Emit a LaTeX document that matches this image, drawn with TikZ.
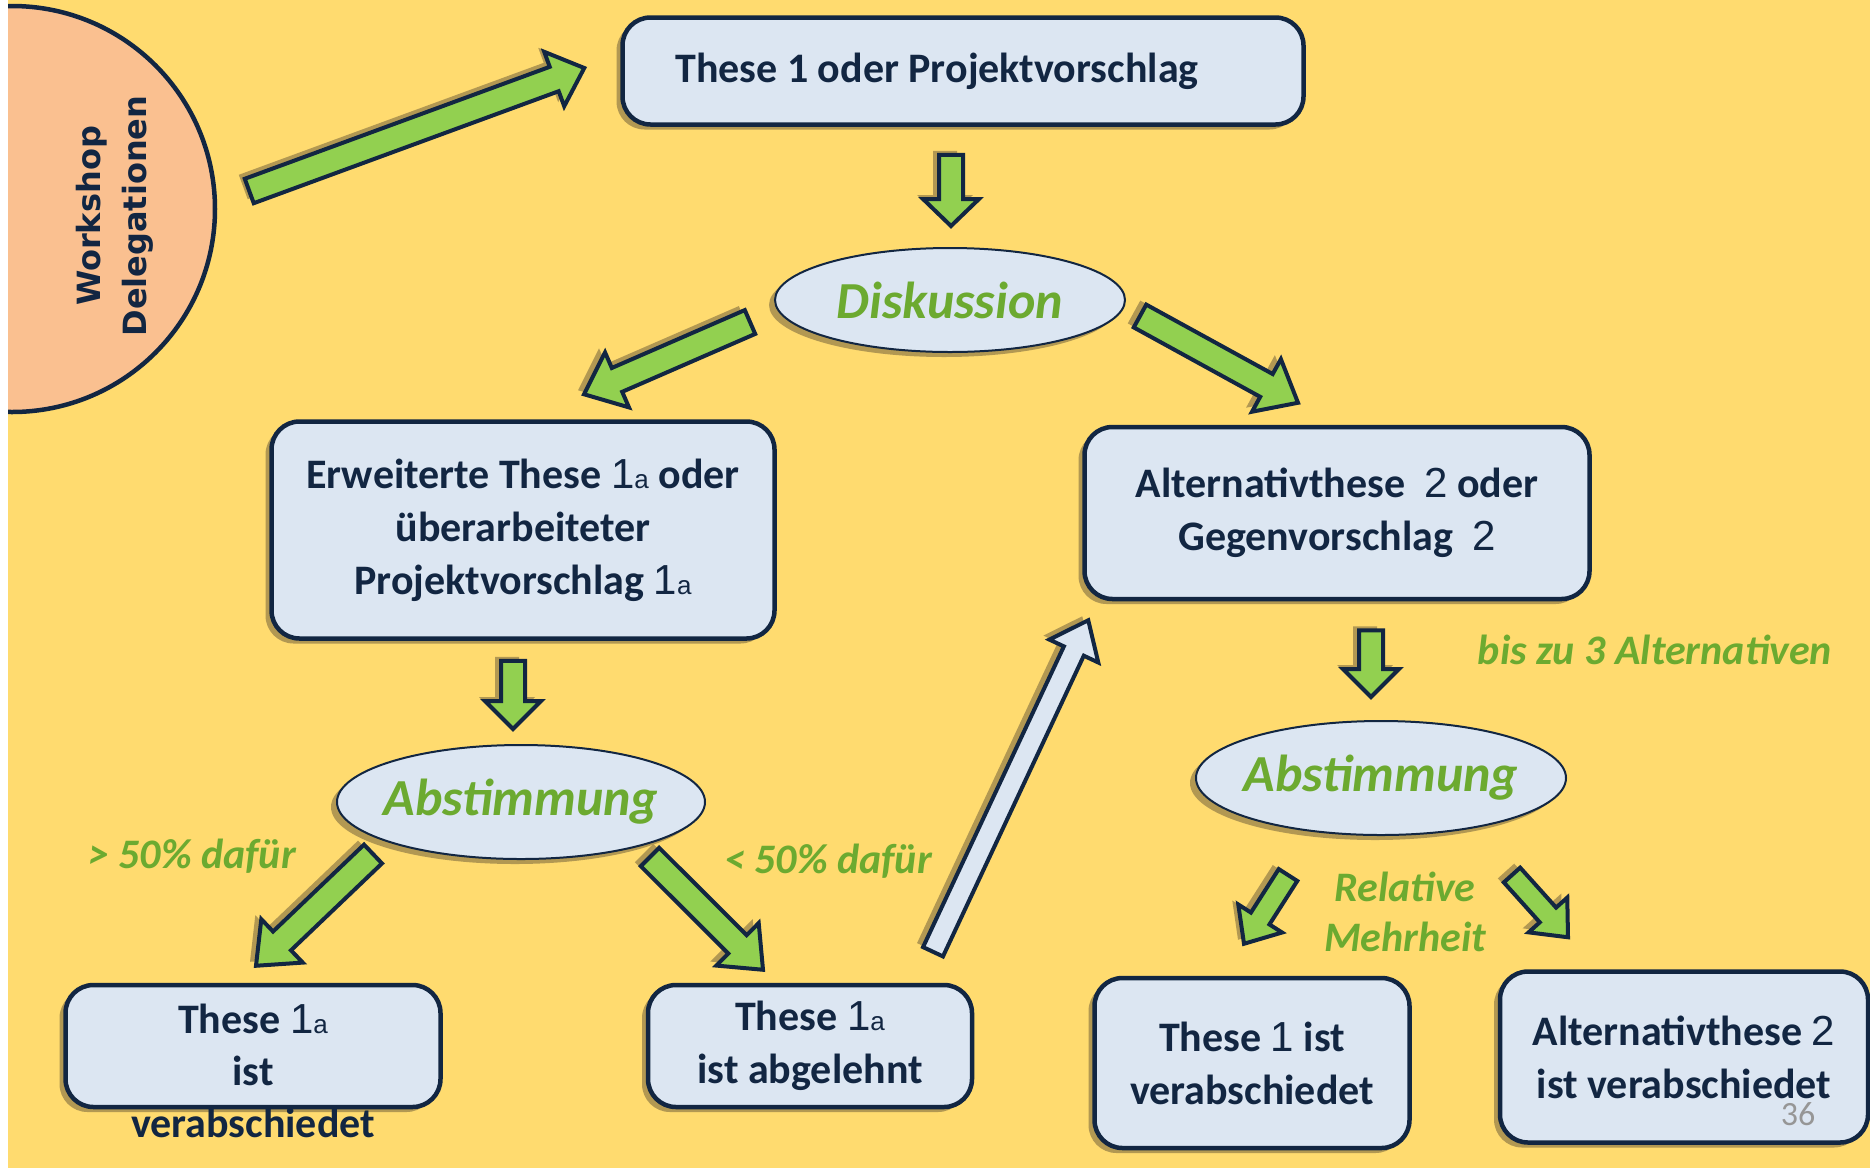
\documentclass[tikz,border=0pt]{standalone}
\usepackage{fontspec}
\setmainfont{Carlito}
\newfontfamily\wsfont{DejaVu Sans}
\newfontfamily\handfont{Liberation Sans}
\usetikzlibrary{calc,shapes.geometric,shadows}

\definecolor{bgyellow}{RGB}{255,219,111}
\definecolor{boxblue}{RGB}{220,230,242}
\definecolor{navy}{RGB}{18,38,66}
\definecolor{arrowgreen}{RGB}{146,208,80}
\definecolor{textgreen}{RGB}{108,170,48}
\definecolor{peach}{RGB}{250,192,144}
\definecolor{shadowc}{RGB}{178,152,82}
\definecolor{pagegray}{RGB}{150,150,150}

\newcommand{\hand}[1]{{\handfont\mdseries #1}}
\newcommand{\einsa}{\hand{1{\fontsize{26}{26}\selectfont a}}}

% block arrow: [style]{shaft}{head}{head length}{from}{to}
\newcommand{\bigarrow}[6][]{%
  \coordinate (ba-s) at #5;
  \coordinate (ba-e) at #6;
  \coordinate (ba-n) at ($(ba-e)!#4!(ba-s)$);
  \draw[blockarr,#1] ($(ba-s)!#2!90:(ba-e)$) -- ($(ba-n)!#2!-90:(ba-s)$)
    -- ($(ba-n)!#3!-90:(ba-s)$) -- (ba-e) -- ($(ba-n)!#3!90:(ba-s)$)
    -- ($(ba-n)!#2!90:(ba-s)$) -- ($(ba-s)!#2!-90:(ba-e)$) -- cycle;
}

\begin{document}
\begin{tikzpicture}[x=1pt,y=1pt,yscale=-1,
    boxshadow/.style={drop shadow={shadow xshift=-6pt,shadow yshift=-5pt,fill=shadowc,opacity=1}},
    thesebox/.style={rectangle,rounded corners=28pt,draw=navy,line width=4.5pt,fill=boxblue,text=navy,
      font=\fontsize{42}{53}\selectfont\bfseries,align=center,inner sep=0pt,boxshadow},
    boxtext/.style={text=navy,font=\fontsize{42}{52}\selectfont\bfseries,align=center,inner sep=0pt},
    talk/.style={ellipse,draw=navy,line width=2pt,fill=boxblue,text=textgreen,
      font=\fontsize{52}{60}\selectfont\bfseries\itshape,inner xsep=-40pt,inner ysep=-10pt,boxshadow},
    greenlab/.style={text=textgreen,font=\fontsize{42}{50}\selectfont\bfseries\itshape,align=center,inner sep=0pt},
    blockarr/.style={draw=navy,line width=4pt,fill=arrowgreen,line join=miter,
      drop shadow={shadow xshift=-6pt,shadow yshift=4pt,fill=shadowc,opacity=1}},
    backarr/.style={fill=boxblue}]
    \useasboundingbox (0,0) rectangle (1870,1168);
    \fill[bgyellow] (0,0) rectangle (1870,1168);

    %Shape: Circle
    \node[circle,draw=navy,line width=4.5pt,fill=peach,minimum size=406pt,inner sep=0pt] (ws) at (12,209) {};
    \fill[white] (0,0) rectangle (8,1168);
    % Text Node
    \node[rotate=90,text=navy,font=\wsfont\fontsize{32}{46}\selectfont\bfseries,align=center] (wslabel) at (115,216) {Workshop\\Delegationen};

    %Shape: Rectangles
    \node[thesebox,minimum width=681pt,minimum height=107pt] (prop) at (963,71) {These 1 oder Projektvorschlag\hspace*{52pt}};
    \node[thesebox,minimum width=503pt,minimum height=217pt] (erw) at (523,530) {Erweiterte These \einsa{} oder\\überarbeiteter\\Projektvorschlag \einsa};
    \node[thesebox,minimum width=505pt,minimum height=172pt] (alt) at (1337,513) {Alternativthese \ \hand{2} oder\\Gegenvorschlag \ \hand{2}};
    \node[thesebox,minimum width=375pt,minimum height=122pt] (vb1) at (253,1046) {};
    \node[boxtext] (vb1text) at (253,1071) {These \einsa\\ist\\verabschiedet};
    \node[thesebox,minimum width=324pt,minimum height=122pt] (abg) at (810,1046) {These \einsa\\ist abgelehnt};
    \node[thesebox,minimum width=315pt,minimum height=170pt] (vb3) at (1252,1063) {These \hand{1} ist\\verabschiedet};
    \node[thesebox,minimum width=368pt,minimum height=171pt] (vb4) at (1684,1057) {Alternativthese \hand{2}\\ist verabschiedet};

    %Shape: Ellipses
    \node[talk,minimum width=350pt,minimum height=104pt] (disk) at (950,300) {Diskussion};
    \node[talk,minimum width=368pt,minimum height=114pt] (absl) at (521,802) {Abstimmung};
    \node[talk,minimum width=370pt,minimum height=114pt] (absr) at (1381,778) {Abstimmung};

    %Block arrows
    \bigarrow{13pt}{29pt}{32pt}{($(ws.east)+(32,-18)$)}{($(prop.west)+(-36,-3)$)}
    \bigarrow{12pt}{28pt}{27pt}{($(prop.south)+(-12,28)$)}{($(disk.north)+(1,-21)$)}
    \bigarrow{13pt}{30pt}{36pt}{($(disk.west)+(-24,22)$)}{($(erw.north)+(61,-25)$)}
    \bigarrow{13pt}{30pt}{36pt}{($(disk.east)+(14,16)$)}{($(alt.north)+(-39,-22)$)}
    \bigarrow{12pt}{28pt}{28pt}{($(erw.south)+(-10,20)$)}{($(absl.north)+(-8,-15)$)}
    \bigarrow{12pt}{28pt}{28pt}{($(alt.south)+(34,29)$)}{($(absr.north)+(-10,-23)$)}
    \bigarrow{13pt}{30pt}{36pt}{($(absl.south)+(-148,-6)$)}{($(vb1.north)+(3,-17)$)}
    \bigarrow{13pt}{30pt}{36pt}{($(absl.south)+(129,-3)$)}{($(abg.north)+(-47,-13)$)}
    \bigarrow[backarr]{11pt}{27pt}{34pt}{($(abg.north)+(123,-31)$)}{($(alt.south west)+(6,19)$)}
    \bigarrow{11pt}{26pt}{30pt}{($(absr.south)+(-93,39)$)}{($(vb3.north)+(-8,-32)$)}
    \bigarrow{11pt}{26pt}{30pt}{($(absr.south)+(131,39)$)}{($(vb4.north)+(-116,-32)$)}

    % Text Node
    \node[greenlab] (lbis) at (1655,650) {bis zu 3 Alternativen};
    % Text Node
    \node[greenlab] (lmehr) at (192,856) {> 50\% dafür};
    % Text Node
    \node[greenlab] (lweniger) at (828,861) {< 50\% dafür};
    % Text Node
    \node[greenlab] (lrel) at (1405,912) {Relative\\Mehrheit};
    % Text Node
    \node[text=pagegray,font=\fontsize{34}{34}\selectfont] (pnum) at (1798,1114) {36};
\end{tikzpicture}
\end{document}
